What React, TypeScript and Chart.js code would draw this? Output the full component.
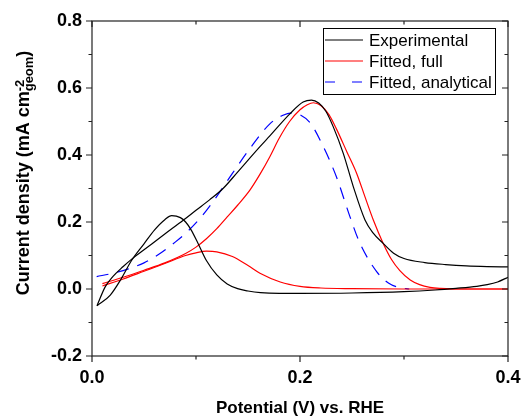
import React, { useEffect, useRef } from 'react';
import { Chart, registerables } from 'chart.js';

Chart.register(...registerables);

const FONT = "'Liberation Sans', Arial, Helvetica, sans-serif";

// ---------- data ----------
// Experimental CV: forward (anodic) branch, low -> high potential
const expForwardV = [0.0048, 0.0176, 0.028, 0.038, 0.05, 0.06, 0.07, 0.0766, 0.085, 0.09, 0.095, 0.102, 0.11, 0.12, 0.13, 0.14, 0.15, 0.162, 0.18, 0.2, 0.25, 0.3, 0.33, 0.35, 0.37, 0.38, 0.39, 0.4];
const expForwardJ = [-0.05, -0.018, 0.03, 0.085, 0.135, 0.176, 0.207, 0.219, 0.213, 0.2, 0.178, 0.136, 0.085, 0.042, 0.015, 0.001, -0.006, -0.011, -0.013, -0.013, -0.012, -0.008, -0.003, 0.002, 0.008, 0.013, 0.021, 0.035];
// Experimental CV: return branch (listed low -> high potential)
const expReturnV = [0.0048, 0.0128, 0.02, 0.03, 0.0385, 0.05, 0.07, 0.088, 0.1, 0.113, 0.126, 0.14, 0.1615, 0.171, 0.19, 0.203, 0.211, 0.218, 0.225, 0.232, 0.2416, 0.2513, 0.2625, 0.27, 0.28, 0.29, 0.3, 0.32, 0.34, 0.36, 0.38, 0.4];
const expReturnJ = [-0.05, 0.007, 0.037, 0.067, 0.09, 0.117, 0.164, 0.206, 0.235, 0.266, 0.3, 0.349, 0.425, 0.457, 0.522, 0.558, 0.564, 0.555, 0.53, 0.484, 0.405, 0.305, 0.206, 0.168, 0.136, 0.107, 0.091, 0.079, 0.073, 0.069, 0.067, 0.066];

// Fitted, full: branch with the large peak
const fitFullMainV = [0.01, 0.03, 0.05, 0.07, 0.09, 0.1, 0.11, 0.12, 0.13, 0.14, 0.152, 0.162, 0.171, 0.18, 0.19, 0.2, 0.207, 0.2128, 0.22, 0.228, 0.235, 0.245, 0.2545, 0.2625, 0.2705, 0.28, 0.288, 0.296, 0.306, 0.315, 0.325, 0.335, 0.36, 0.4];
const fitFullMainJ = [0.016, 0.035, 0.056, 0.078, 0.106, 0.125, 0.15, 0.18, 0.215, 0.25, 0.296, 0.345, 0.395, 0.45, 0.5, 0.535, 0.55, 0.556, 0.548, 0.52, 0.478, 0.41, 0.345, 0.275, 0.206, 0.136, 0.088, 0.055, 0.027, 0.013, 0.005, 0.002, 0.0, 0.0];
// Fitted, full: branch with the small peak
const fitFullSmallV = [0.01, 0.03, 0.05, 0.07, 0.09, 0.1, 0.11, 0.12, 0.135, 0.15, 0.1615, 0.181, 0.2, 0.22, 0.25, 0.3, 0.4];
const fitFullSmallJ = [0.009, 0.03, 0.053, 0.076, 0.1, 0.108, 0.113, 0.111, 0.097, 0.07, 0.047, 0.021, 0.008, 0.003, 0.001, 0.0, 0.0];

// Fitted, analytical
const fitAnaV = [0.0045, 0.02, 0.035, 0.05, 0.065, 0.08, 0.092, 0.105, 0.115, 0.123, 0.135, 0.152, 0.171, 0.183, 0.192, 0.2, 0.21, 0.2224, 0.235, 0.248, 0.2577, 0.2737, 0.285, 0.296, 0.305];
const fitAnaJ = [0.037, 0.047, 0.06, 0.078, 0.105, 0.14, 0.172, 0.215, 0.255, 0.29, 0.345, 0.42, 0.493, 0.518, 0.526, 0.52, 0.495, 0.425, 0.335, 0.216, 0.136, 0.052, 0.018, 0.004, 0.0];

const xTicks = [0, 0.1, 0.2, 0.3, 0.4];
const yTicks = [-0.2, -0.1, 0, 0.1, 0.2, 0.3, 0.4, 0.5, 0.6, 0.7, 0.8];
const legendLabels = ['Experimental', 'Fitted, full', 'Fitted, analytical'];
const xTitle = 'Potential (V) vs. RHE';
const yTitleMain = 'Current density (mA cm';
const yTitleSup = '-2';
const yTitleSub = 'geom';

const BLACK = '#000000';
const RED = '#ff0000';
const BLUE = '#0000ff';
const DASH = [12, 9];

const isMajor = (v: number) => Math.abs(Math.round(v * 10)) % 2 === 0;

export default function App() {
  const ref = useRef<HTMLCanvasElement>(null);

  useEffect(() => {
    if (!ref.current) return;
    const pts = (xs: number[], ys: number[]) => xs.map((x, i) => ({ x, y: ys[i] }));
    const ds = (xs: number[], ys: number[], color: string, dash: number[] = []) => ({
      data: pts(xs, ys),
      borderColor: color,
      backgroundColor: color,
      borderWidth: 1.2,
      borderDash: dash,
      pointRadius: 0,
      showLine: true,
      fill: false,
      cubicInterpolationMode: 'monotone',
    });

    const decor = {
      id: 'decor',
      afterDraw(chart: any) {
        const ctx = chart.ctx as CanvasRenderingContext2D;
        const { left, right, top, bottom } = chart.chartArea;
        const xs = chart.scales.x;
        const ys = chart.scales.y;
        ctx.save();
        // frame
        ctx.strokeStyle = '#222';
        ctx.lineWidth = 1.2;
        ctx.setLineDash([]);
        ctx.strokeRect(left, top, right - left, bottom - top);
        // ticks
        ctx.beginPath();
        yTicks.forEach((v) => {
          const p = ys.getPixelForValue(v);
          const len = isMajor(v) ? 6 : 3.5;
          ctx.moveTo(left, p);
          ctx.lineTo(left - len, p);
          ctx.moveTo(right, p);
          ctx.lineTo(right - len, p);
        });
        xTicks.forEach((v) => {
          const p = xs.getPixelForValue(v);
          const len = isMajor(v) ? 6 : 3.5;
          ctx.moveTo(p, bottom);
          ctx.lineTo(p, bottom + len);
          ctx.moveTo(p, top);
          ctx.lineTo(p, top + len);
        });
        ctx.stroke();

        // x title
        ctx.fillStyle = '#000';
        ctx.font = `bold 17px ${FONT}`;
        ctx.textAlign = 'center';
        ctx.textBaseline = 'alphabetic';
        ctx.fillText(xTitle, (left + right) / 2, 413);

        // y title (rotated, with super/subscript)
        ctx.font = `bold 18px ${FONT}`;
        const w1 = ctx.measureText(yTitleMain).width;
        const w3 = ctx.measureText(')').width;
        ctx.font = `bold 13px ${FONT}`;
        const wSup = ctx.measureText(yTitleSup).width;
        const wSub = ctx.measureText(yTitleSub).width;
        const total = w1 + Math.max(wSup, wSub) + w3;
        ctx.translate(29, 173);
        ctx.rotate(-Math.PI / 2);
        ctx.textAlign = 'left';
        let x0 = -total / 2;
        ctx.font = `bold 18px ${FONT}`;
        ctx.fillText(yTitleMain, x0, 0);
        x0 += w1;
        ctx.font = `bold 13px ${FONT}`;
        ctx.fillText(yTitleSup, x0, -5);
        ctx.fillText(yTitleSub, x0, 4);
        x0 += Math.max(wSup, wSub);
        ctx.font = `bold 18px ${FONT}`;
        ctx.fillText(')', x0, 0);
        ctx.restore();

        // legend
        ctx.save();
        ctx.fillStyle = '#fff';
        ctx.fillRect(323, 28, 172, 66);
        ctx.strokeStyle = '#000';
        ctx.lineWidth = 1;
        ctx.strokeRect(323.5, 28.5, 172, 66);
        const rows = [40, 61, 82];
        const colors = [BLACK, RED, BLUE];
        rows.forEach((y, i) => {
          ctx.strokeStyle = colors[i];
          ctx.lineWidth = 1.2;
          ctx.setLineDash(i === 2 ? [10, 17] : []);
          ctx.beginPath();
          ctx.moveTo(325, y);
          ctx.lineTo(363, y);
          ctx.stroke();
          ctx.setLineDash([]);
          ctx.fillStyle = '#000';
          ctx.font = `17px ${FONT}`;
          ctx.textAlign = 'left';
          ctx.textBaseline = 'alphabetic';
          ctx.fillText(legendLabels[i], 369, y + 6);
        });
        ctx.restore();
      },
    };

    const tickFont = { family: FONT, size: 18, weight: 'bold' as const };
    const chart = new Chart(ref.current, {
      type: 'scatter',
      data: {
        datasets: [
          ds(expForwardV, expForwardJ, BLACK),
          ds(expReturnV, expReturnJ, BLACK),
          ds(fitFullMainV, fitFullMainJ, RED),
          ds(fitFullSmallV, fitFullSmallJ, RED),
          ds(fitAnaV, fitAnaJ, BLUE, DASH),
        ] as any,
      },
      options: {
        responsive: false,
        animation: false,
        events: [],
        layout: { padding: { top: 21, right: 0, left: 0, bottom: 0 } },
        plugins: { legend: { display: false }, tooltip: { enabled: false } },
        scales: {
          x: {
            type: 'linear',
            min: 0,
            max: 0.4,
            afterFit: (s: any) => {
              s.height = 60;
              s.paddingLeft = 0;
              s.paddingRight = 13;
            },
            afterBuildTicks: (s: any) => {
              s.ticks = xTicks.map((v) => ({ value: v }));
            },
            ticks: {
              callback: (v: any) => (isMajor(Number(v)) ? Number(v).toFixed(1) : ''),
              font: tickFont,
              color: '#000',
              padding: 11,
              maxRotation: 0,
              autoSkip: false,
            },
            grid: { display: false, drawTicks: false },
            border: { display: false },
          },
          y: {
            type: 'linear',
            min: -0.2,
            max: 0.8,
            afterFit: (s: any) => {
              s.width = 92;
              s.paddingTop = 0;
              s.paddingBottom = 0;
            },
            afterBuildTicks: (s: any) => {
              s.ticks = yTicks.map((v) => ({ value: v }));
            },
            ticks: {
              callback: (v: any) => (isMajor(Number(v)) ? Number(v).toFixed(1) : ''),
              font: tickFont,
              color: '#000',
              padding: 10,
              autoSkip: false,
            },
            grid: { display: false, drawTicks: false },
            border: { display: false },
          },
        },
      } as any,
      plugins: [decor],
    });
    return () => chart.destroy();
  }, []);

  return (
    <div style={{ position: 'absolute', left: 0, top: 0, width: 521, height: 416, background: '#fff' }}>
      <canvas ref={ref} width={521} height={416} style={{ display: 'block' }} />
    </div>
  );
}
